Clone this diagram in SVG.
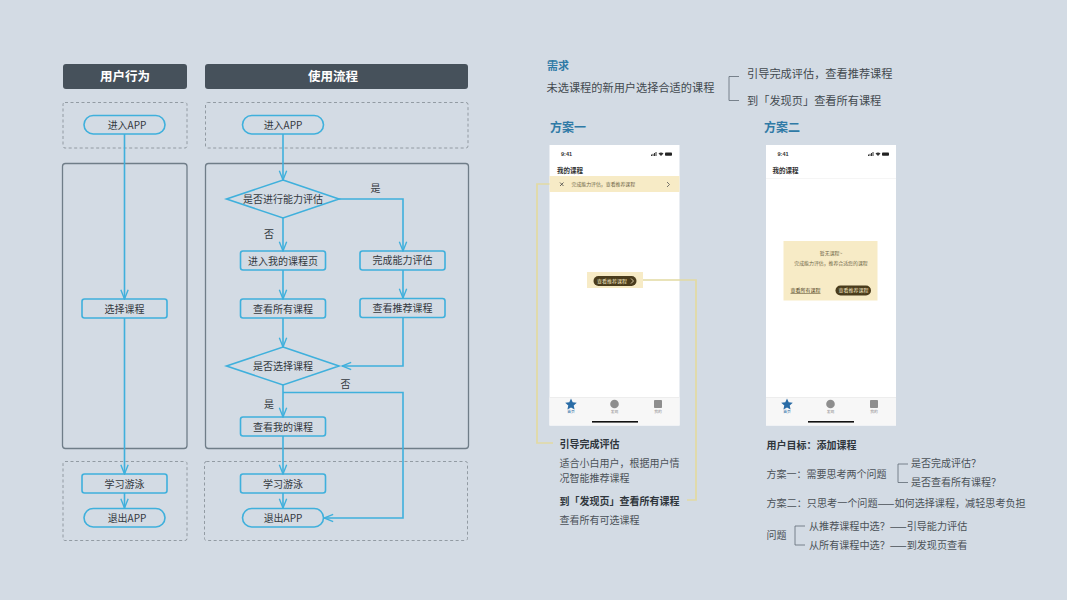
<svg xmlns="http://www.w3.org/2000/svg" width="1067" height="600" viewBox="0 0 1067 600">
<style>
text{font-family:"Noto Sans CJK SC","Noto Sans",sans-serif;fill:#33393f;font-size:10px}
.m{text-anchor:middle}
.hd{fill:#46515b}
.hdt{fill:#fff;font-size:12.5px;font-weight:700;text-anchor:middle}
.dash{fill:none;stroke:#8a939b;stroke-width:.9;stroke-dasharray:3 2.5}
.lane{fill:none;stroke:#6f7d88;stroke-width:1.3}
.n{fill:#d3dbe4;stroke:#3fb0dc;stroke-width:1.6}
.c{fill:none;stroke:#3fb0dc;stroke-width:1.6}
.lt{font-size:10px;fill:#33393f}
.br{fill:none;stroke:#5f6a73;stroke-width:.8}
.t11{font-size:11.200px;fill:#42494f}
.t10{font-size:10px;fill:#4b5258}
.b{font-weight:700;font-size:10px;fill:#2f363c}
.blue{font-size:12px;font-weight:700;fill:#2f7aa6}
.y{fill:none;stroke:#e2daa2;stroke-width:1.700}
.phone{fill:#fff}
.tab{fill:#f7f7f7}
.tiny{font-size:3.800px;fill:#8a8a8a;text-anchor:middle}
.cr{font-size:4.900px;fill:#6e6546}
.pill{fill:#4a3c1c}
.pt{font-size:5px;fill:#f6e9c4;text-anchor:middle}
.time{font-size:5.500px;font-weight:700;fill:#333;font-family:"Liberation Sans",sans-serif}
.title{font-size:6.500px;font-weight:700;fill:#333}
</style>
<defs>
<marker id="v" viewBox="0 0 12 12" refX="11" refY="6" markerWidth="11" markerHeight="11" markerUnits="userSpaceOnUse" orient="auto">
<path d="M1 2L11 6L1 10" fill="none" stroke="#3fb0dc" stroke-width="1.500"/>
</marker>
<g id="sb">
<rect x="0" y="2.500" width="1" height="1.500" fill="#333"/><rect x="1.500" y="1.800" width="1" height="2.200" fill="#333"/><rect x="3" y="1" width="1" height="3" fill="#333"/><rect x="4.500" y="0" width="1" height="4" fill="#333"/>
<path d="M7.500 1.400Q10 -.6 12.500 1.400L10 4Z" fill="#333"/>
<rect x="14" y=".4" width="7" height="3.300" rx=".8" fill="#222"/>
</g>
</defs>
<rect width="1067" height="600" fill="#d3dbe4"/>

<g id="lanes">
<rect class="hd" x="63" y="64" width="124" height="25" rx="3"/>
<text class="hdt" x="125" y="81">用户行为</text>
<rect class="hd" x="205" y="64" width="263" height="25" rx="3"/>
<text class="hdt" x="333" y="81">使用流程</text>
<rect class="dash" x="63" y="102.500" width="124" height="45.500" rx="2"/>
<rect class="dash" x="205.500" y="102.500" width="262.500" height="45.500" rx="2"/>
<rect class="lane" x="62.500" y="163.500" width="124.500" height="285" rx="3"/>
<rect class="lane" x="205.500" y="163.500" width="263" height="285" rx="3"/>
<rect class="dash" x="63" y="461.500" width="124" height="79" rx="2"/>
<rect class="dash" x="204.500" y="461.500" width="263" height="79" rx="2"/>
</g>

<g id="n-enter-a"><rect class="n" x="84" y="115.500" width="81" height="18.500" rx="9.250"/><text class="m" x="127" y="129">进入APP</text></g>
<g id="n-select-a"><rect class="n" x="82" y="299" width="85" height="19" rx="2.500"/><text class="m" x="124.500" y="312.500">选择课程</text></g>
<g id="n-learn-a"><rect class="n" x="82" y="474" width="85" height="19" rx="2.500"/><text class="m" x="124.500" y="487.500">学习游泳</text></g>
<g id="n-exit-a"><rect class="n" x="84" y="508.500" width="81" height="18.500" rx="9.250"/><text class="m" x="127" y="522">退出APP</text></g>

<g id="n-enter-b"><rect class="n" x="242.500" y="115.500" width="81" height="18.500" rx="9.250"/><text class="m" x="283" y="129">进入APP</text></g>
<g id="n-d1"><path class="n" d="M283 180L339 199L283 218L226.500 199Z"/><text class="m" x="283" y="202.500">是否进行能力评估</text></g>
<g id="n-mycourse"><rect class="n" x="240.500" y="251" width="85" height="19" rx="2.500"/><text class="m" x="283" y="264.500">进入我的课程页</text></g>
<g id="n-assess"><rect class="n" x="360" y="251" width="85" height="19" rx="2.500"/><text class="m" x="402.500" y="264">完成能力评估</text></g>
<g id="n-all"><rect class="n" x="240.500" y="299" width="85" height="19" rx="2.500"/><text class="m" x="283" y="312.500">查看所有课程</text></g>
<g id="n-rec"><rect class="n" x="360" y="298.500" width="85" height="19" rx="2.500"/><text class="m" x="402.500" y="311.500">查看推荐课程</text></g>
<g id="n-d2"><path class="n" d="M283 347L339 366L283 385L226.500 366Z"/><text class="m" x="283" y="369.500">是否选择课程</text></g>
<g id="n-mine"><rect class="n" x="240.500" y="417" width="85" height="19" rx="2.500"/><text class="m" x="283" y="430.500">查看我的课程</text></g>
<g id="n-learn-b"><rect class="n" x="240.500" y="474" width="85" height="19" rx="2.500"/><text class="m" x="283" y="487.500">学习游泳</text></g>
<g id="n-exit-b"><rect class="n" x="242.500" y="508.500" width="81" height="18.500" rx="9.250"/><text class="m" x="283" y="522">退出APP</text></g>

<g id="connectors">
<path class="c" d="M124.500 134V299" marker-end="url(#v)"/>
<path class="c" d="M124.500 318V474" marker-end="url(#v)"/>
<path class="c" d="M124.500 493V508" marker-end="url(#v)"/>
<path class="c" d="M283 134V180" marker-end="url(#v)"/>
<path class="c" d="M283 218V251" marker-end="url(#v)"/>
<path class="c" d="M339 199H403V251" marker-end="url(#v)"/>
<path class="c" d="M283 270V299" marker-end="url(#v)"/>
<path class="c" d="M403 270V298" marker-end="url(#v)"/>
<path class="c" d="M283 318V347" marker-end="url(#v)"/>
<path class="c" d="M403 317V366H342" marker-end="url(#v)"/>
<path class="c" d="M283 385V417" marker-end="url(#v)"/>
<path class="c" d="M283 392.500H403V518H324" marker-end="url(#v)"/>
<path class="c" d="M283 436V474" marker-end="url(#v)"/>
<path class="c" d="M283 493V508" marker-end="url(#v)"/>
</g>

<g id="edge-labels">
<text class="lt m" x="375.500" y="191.500">是</text>
<text class="lt m" x="269" y="238">否</text>
<text class="lt m" x="345.500" y="388">否</text>
<text class="lt m" x="269" y="408">是</text>
</g>

<g id="need">
<text x="547" y="69.500" style="font-size:11px;font-weight:700;fill:#2f7aa6">需求</text>
<text class="t11" x="546.500" y="92">未选课程的新用户选择合适的课程</text>
<path class="br" d="M739 76.500H729V100.500H739"/>
<text class="t11" x="747" y="77.500">引导完成评估，查看推荐课程</text>
<text class="t11" x="747" y="104.500">到「发现页」查看所有课程</text>
<text class="blue" x="550" y="131.500">方案一</text>
<text class="blue" x="764" y="131.500">方案二</text>
</g>

<g id="phone1">
<rect class="phone" x="549.500" y="145" width="130" height="280.500"/>
<text class="time" x="561" y="155.500">9:41</text>
<use href="#sb" x="651" y="152"/>
<text class="title" x="557" y="173">我的课程</text>
<rect x="549.500" y="176" width="130" height="16" fill="#f7ebc6"/>
<path d="M560 182.500l3.500 3.500M563.500 182.500l-3.500 3.500" stroke="#444" stroke-width=".8"/>
<text class="cr" x="571.500" y="186">完成能力评估，查看推荐课程</text>
<path d="M667 182l2.500 2.500L667 187" fill="none" stroke="#555" stroke-width=".8"/>
<rect x="587" y="272" width="56" height="16" fill="#f7ebc6"/>
<rect class="pill" x="593.500" y="276" width="43" height="10" rx="5"/>
<text class="pt" x="612" y="283">查看推荐课程</text>
<path d="M631 278.500l2.500 2.500L631 283.500" fill="none" stroke="#f6e9c4" stroke-width=".8"/>
<rect class="tab" x="549.500" y="397" width="130" height="28.500"/>
<path d="M549.500 397.500H679.500" stroke="#e8e8e8" stroke-width=".7"/>
<path d="M571 398.500L572.700 402.300L576.800 402.700L573.700 405.400L574.600 409.500L571 407.400L567.400 409.500L568.300 405.400L565.200 402.700L569.300 402.300Z" fill="#2a6ca6"/>
<circle cx="614.500" cy="404" r="4.300" fill="#8e8e8e"/>
<rect x="654" y="400" width="8" height="8" rx=".8" fill="#8e8e8e"/>
<text class="tiny" x="571" y="413" style="fill:#2a6ca6">首页</text>
<text class="tiny" x="614.500" y="413">发现</text>
<text class="tiny" x="658" y="413">我的</text>
<rect x="592" y="421" width="46" height="1.600" fill="#111"/>
</g>

<g id="phone2">
<rect class="phone" x="766" y="145" width="130" height="280.500"/>
<text class="time" x="777.500" y="155.500">9:41</text>
<use href="#sb" x="868" y="152"/>
<text class="title" x="772.500" y="173">我的课程</text>
<path d="M766 178.500H896" stroke="#f1f1f1" stroke-width=".7"/>
<rect x="783.500" y="241" width="94" height="59.500" fill="#f7ebc6"/>
<text class="cr m" x="831" y="255">暂无课程~</text>
<text class="cr m" x="831" y="264.500">完成能力评估，推荐合适您的课程</text>
<text x="790.500" y="292" style="font-size:5px;fill:#4a3c1c;text-decoration:underline">查看所有课程</text>
<rect class="pill" x="835.500" y="285.500" width="35.500" height="10" rx="5"/>
<text class="pt" x="853.500" y="292.300">查看推荐课程</text>
<rect class="tab" x="766" y="397" width="130" height="28.500"/>
<path d="M766 397.500H896" stroke="#e8e8e8" stroke-width=".7"/>
<path d="M787 398.500L788.700 402.300L792.800 402.700L789.700 405.400L790.600 409.500L787 407.400L783.400 409.500L784.300 405.400L781.200 402.700L785.300 402.300Z" fill="#2a6ca6"/>
<circle cx="830.500" cy="404" r="4.300" fill="#8e8e8e"/>
<rect x="870" y="400" width="8" height="8" rx=".8" fill="#8e8e8e"/>
<text class="tiny" x="787" y="413" style="fill:#2a6ca6">首页</text>
<text class="tiny" x="830.500" y="413">发现</text>
<text class="tiny" x="874" y="413">我的</text>
<rect x="808" y="421" width="46" height="1.600" fill="#111"/>
</g>

<g id="callouts">
<path class="y" d="M549.500 184H537V443H553"/>
<path class="y" d="M643 280H696V500H687"/>
</g>

<g id="notes1">
<text class="b" x="559.500" y="448">引导完成评估</text>
<text class="t10" x="559.500" y="466.500">适合小白用户，根据用户情</text>
<text class="t10" x="559.500" y="482">况智能推荐课程</text>
<text class="b" x="559.500" y="505">到「发现页」查看所有课程</text>
<text class="t10" x="559.500" y="523.500">查看所有可选课程</text>
</g>

<g id="notes2">
<text class="b" x="766.500" y="449">用户目标：添加课程</text>
<text class="t10" x="766.500" y="477.500">方案一：需要思考两个问题</text>
<path class="br" d="M908 464H898V482.500H908"/>
<text class="t10" x="911" y="467">是否完成评估？</text>
<text class="t10" x="911" y="486">是否查看所有课程？</text>
<text class="t10" x="766.500" y="506.500" style="font-size:10.100px">方案二：只思考一个问题——如何选择课程，减轻思考负担</text>
<text class="t10" x="766.500" y="539">问题</text>
<path class="br" d="M805 526H795V545H805"/>
<text class="t10" x="809" y="530" style="font-size:10.100px">从推荐课程中选？——引导能力评估</text>
<text class="t10" x="809" y="549" style="font-size:10.100px">从所有课程中选？——到发现页查看</text>
</g>
</svg>
